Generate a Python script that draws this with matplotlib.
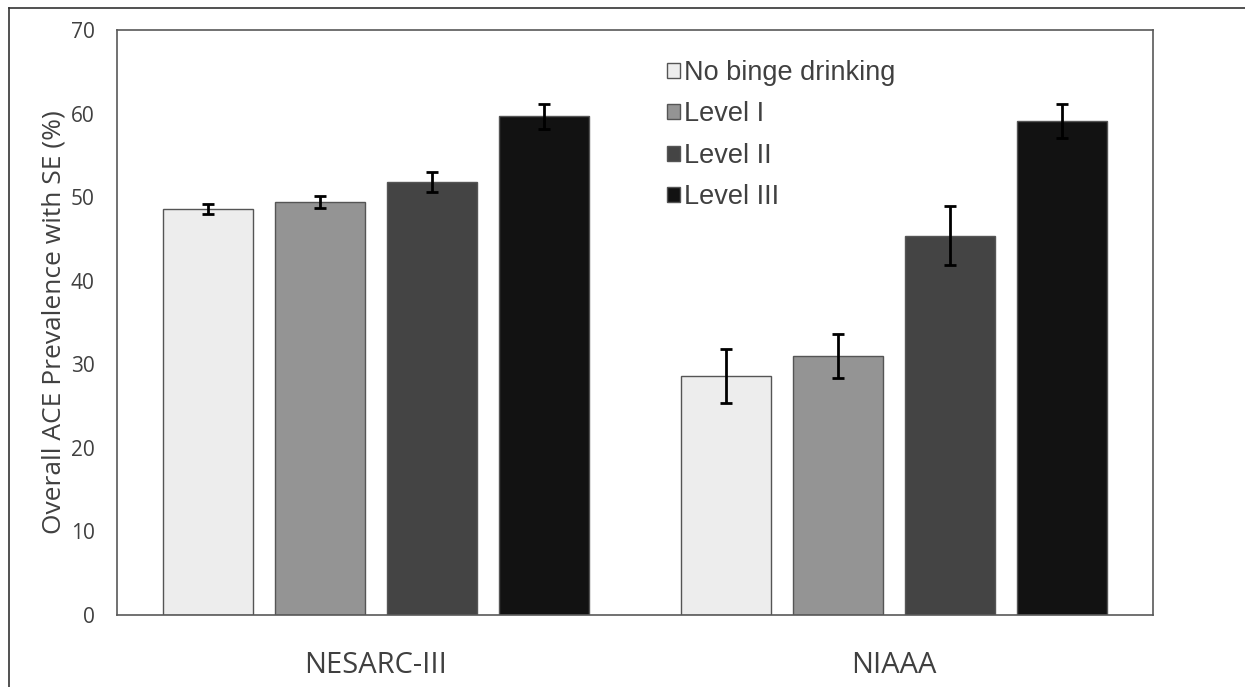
import numpy as np
import matplotlib
matplotlib.use("Agg")
from matplotlib import pyplot as plt
from matplotlib.lines import Line2D

surveys = ['NESARC-III', 'NIAAA']
levels = ['No binge drinking', 'Level I', 'Level II', 'Level III']
colors = ['#ededed', '#949494', '#444444', '#121212']

# prevalence (%) per level, one value per survey
no_binge = [48.6, 28.6]
level1 = [49.4, 31.0]
level2 = [51.8, 45.4]
level3 = [59.7, 59.1]
values = [no_binge, level1, level2, level3]

# standard errors
se_no_binge = [0.6, 3.2]
se_level1 = [0.7, 2.6]
se_level2 = [1.2, 3.5]
se_level3 = [1.5, 2.0]
errors = [se_no_binge, se_level1, se_level2, se_level3]

fig = plt.figure(figsize=(12.45, 6.87), dpi=100)
ax = fig.add_axes([117/1245, 72/687, 1036/1245, 585/687])

x = np.arange(len(surveys))
width = 0.174
step = 0.216
for i in range(len(levels)):
    pos = x + (i - 1.5) * step
    ax.bar(pos, values[i], width, color=colors[i], edgecolor='#555555',
           linewidth=1, label=levels[i], zorder=2)
    ax.errorbar(pos, values[i], yerr=errors[i], fmt='none', ecolor='black',
                elinewidth=2, capsize=4, capthick=2, zorder=3)

ax.set_xlim(-0.5, 1.5)
ax.set_ylim(0, 70)
ax.set_yticks(range(0, 71, 10))
ax.set_xticks(x)
ax.set_xticklabels(surveys, fontsize=21, family='Open Sans', color='#404040')
for lab in ax.get_yticklabels():
    lab.set_family('Open Sans')
    lab.set_fontsize(15)
    lab.set_color('#404040')
ax.tick_params(axis='both', length=0)
ax.tick_params(axis='y', pad=16)
ax.tick_params(axis='x', pad=26)
for s in ax.spines.values():
    s.set_color('#595959')
    s.set_linewidth(1.2)

ax.set_ylabel('Overall ACE Prevalence with SE (%)', fontsize=19,
              family='Open Sans', color='#404040', labelpad=3)

leg = ax.legend(loc='upper left', bbox_to_anchor=(0.52, 0.9675), frameon=False,
                prop={'family': 'Liberation Sans', 'size': 19.5},
                handlelength=0.48, handleheight=0.48, handletextpad=0.15,
                labelspacing=0.57, borderaxespad=0)
for t in leg.get_texts():
    t.set_color('#404040')

# outer frame of the figure
fig.add_artist(Line2D([9/1245, 9/1245], [0, 1 - 7.5/687], color='#333333',
                      lw=1.2, transform=fig.transFigure))
fig.add_artist(Line2D([9/1245, 1], [1 - 7.5/687, 1 - 7.5/687], color='#333333',
                      lw=1.2, transform=fig.transFigure))

fig.savefig('out.png', dpi=100)
